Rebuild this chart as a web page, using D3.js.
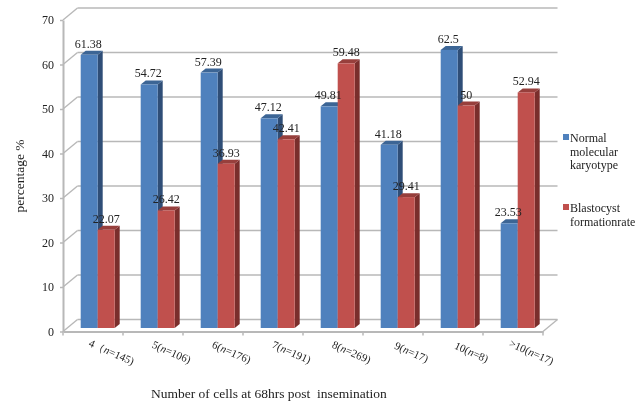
<!DOCTYPE html>
<html>
<head>
<meta charset="utf-8">
<script src="https://cdn.jsdelivr.net/npm/d3@7"></script>
<style>
  html, body { margin: 0; padding: 0; background: #fff; }
  svg { display: block; filter: blur(0.35px); }
  text { font-family: "Liberation Serif", serif; fill: #222; }
</style>
</head>
<body>
<svg></svg>
<script>
//chart data
var categories = ["4（n=145)", "5(n=106)", "6(n=176)", "7(n=191)", "8(n=269)", "9(n=17)", "10(n=8)", ">10(n=17)"];
var normalKaryotype = [61.38, 54.72, 57.39, 47.12, 49.81, 41.18, 62.5, 23.53];
var blastocystRate = [22.07, 26.42, 36.93, 42.41, 59.48, 29.41, 50, 52.94];
var seriesNames = ["normal", "blastocyst"];
var yTicks = [0, 10, 20, 30, 40, 50, 60, 70];

var svgWidth = 636, svgHeight = 402;

//3d look of the chart: back wall offset, bar depth
var wallX = 14.5, wallY = -12;
var barDepthX = 5, barDepthY = -4;
var barLift = -3.5;

var colors = {
    normal: { front: "#4f81bd", top: "#3c6595", side: "#2f4e77" },
    blastocyst: { front: "#c0504d", top: "#973f3c", side: "#7a2e2c" }
};
var gridColor = "#b8b8b8";

var svg = d3.select("svg")
    .attr("width", svgWidth)
    .attr("height", svgHeight);

//scales
var x = d3.scaleBand().domain(categories).range([63, 543]);
var xInner = d3.scaleBand().domain(seriesNames).range([17.7, 51.7]);
var y = d3.scaleLinear().domain([0, 70]).range([331.5, 20]);

//gridlines on the back wall and the left wall
var grid = svg.append("g");
grid.selectAll(".back")
    .data(yTicks)
    .enter().append("line")
    .attr("x1", x.range()[0] + wallX)
    .attr("x2", x.range()[1] + wallX)
    .attr("y1", function(d) { return y(d) + wallY; })
    .attr("y2", function(d) { return y(d) + wallY; })
    .attr("stroke", gridColor)
    .attr("stroke-width", 1.6);
grid.selectAll(".left")
    .data(yTicks)
    .enter().append("line")
    .attr("x1", x.range()[0])
    .attr("x2", x.range()[0] + wallX)
    .attr("y1", function(d) { return y(d); })
    .attr("y2", function(d) { return y(d) + wallY; })
    .attr("stroke", gridColor)
    .attr("stroke-width", 1.4);

//floor, right edge
grid.append("line")
    .attr("x1", x.range()[1]).attr("x2", x.range()[1] + wallX)
    .attr("y1", y(0)).attr("y2", y(0) + wallY)
    .attr("stroke", gridColor).attr("stroke-width", 1.4);

//y axis
var yAxis = svg.append("g")
    .attr("transform", "translate(" + x.range()[0] + ",0)")
    .call(d3.axisLeft(y).tickValues(yTicks).tickSize(3).tickPadding(6).tickSizeOuter(0));
yAxis.select(".domain").attr("stroke", gridColor).attr("stroke-width", 2);
yAxis.selectAll("line").attr("stroke", gridColor).attr("stroke-width", 1.5);
yAxis.selectAll("text").attr("font-size", 12).attr("font-family", "Liberation Serif").attr("fill", "#222");

//x axis: ticks sit on the category boundaries, labels are slanted with an italic n
var xAxis = svg.append("g")
    .attr("transform", "translate(0," + y(0) + ")")
    .call(d3.axisBottom(x).tickSize(0).tickSizeOuter(0));
xAxis.select(".domain").attr("stroke", gridColor).attr("stroke-width", 2);
xAxis.selectAll("text")
    .attr("font-size", 11)
    .attr("font-family", "Liberation Serif")
    .attr("fill", "#222")
    .attr("text-anchor", "middle")
    .attr("y", 0).attr("dy", 0)
    .attr("transform", "translate(17,24) rotate(24)")
    .each(function(d) {
        var parts = d.split("n");
        var t = d3.select(this).text(null);
        t.append("tspan").text(parts[0]);
        t.append("tspan").attr("font-style", "italic").text("n");
        t.append("tspan").text(parts[1]);
    });
svg.append("g").selectAll("line")
    .data(categories.concat(["end"]))
    .enter().append("line")
    .attr("x1", function(d, i) { return x.range()[0] + i * x.bandwidth(); })
    .attr("x2", function(d, i) { return x.range()[0] + i * x.bandwidth(); })
    .attr("y1", y(0))
    .attr("y2", y(0) + 4)
    .attr("stroke", gridColor)
    .attr("stroke-width", 1.5);

//bars are drawn as three faces, blue first so the red one covers its side
function drawBars(name, values) {
    var c = colors[name];
    var g = svg.append("g").attr("class", "bars-" + name);
    var bars = g.selectAll("g")
        .data(values)
        .enter().append("g");

    function left(i) { return x(categories[i]) + xInner(name); }
    function right(i) { return left(i) + xInner.bandwidth(); }
    function top(d) { return y(d) + barLift; }
    function base() { return y(0) + barLift; }

    bars.append("path")
        .attr("fill", c.side)
        .attr("d", function(d, i) {
            return d3.line()([
                [right(i), top(d)],
                [right(i) + barDepthX, top(d) + barDepthY],
                [right(i) + barDepthX, base() + barDepthY],
                [right(i), base()]
            ]) + "Z";
        });
    bars.append("path")
        .attr("fill", c.top)
        .attr("d", function(d, i) {
            return d3.line()([
                [left(i), top(d)],
                [left(i) + barDepthX, top(d) + barDepthY],
                [right(i) + barDepthX, top(d) + barDepthY],
                [right(i), top(d)]
            ]) + "Z";
        });
    bars.append("rect")
        .attr("fill", c.front)
        .attr("x", function(d, i) { return left(i); })
        .attr("y", function(d) { return top(d); })
        .attr("width", xInner.bandwidth())
        .attr("height", function(d) { return base() - top(d); });
}
drawBars("normal", normalKaryotype);
drawBars("blastocyst", blastocystRate);

//value labels
function drawLabels(name, values, dx) {
    svg.append("g").selectAll("text")
        .data(values)
        .enter().append("text")
        .attr("x", function(d, i) { return x(categories[i]) + xInner(name) + xInner.bandwidth() / 2 + dx; })
        .attr("y", function(d) { return y(d) + barLift - 7; })
        .attr("text-anchor", "middle")
        .attr("font-size", 12)
        .text(function(d) { return d; });
}
drawLabels("normal", normalKaryotype, -1);
drawLabels("blastocyst", blastocystRate, 0);

//legend
var legend = [
    { name: "normal", lines: ["Normal", "molecular", "karyotype"], top: 134 },
    { name: "blastocyst", lines: ["Blastocyst", "formationrate"], top: 204 }
];
var legendG = svg.append("g").selectAll("g")
    .data(legend)
    .enter().append("g")
    .attr("transform", function(d) { return "translate(563," + d.top + ")"; });
legendG.append("rect")
    .attr("width", 6).attr("height", 6)
    .attr("fill", function(d) { return colors[d.name].front; });
legendG.selectAll("text")
    .data(function(d) { return d.lines; })
    .enter().append("text")
    .attr("x", 7)
    .attr("y", function(d, i) { return 8 + i * 13.7; })
    .attr("font-size", 12)
    .text(function(d) { return d; });

//axis titles
svg.append("text")
    .attr("transform", "translate(24,176) rotate(-90)")
    .attr("text-anchor", "middle")
    .attr("font-size", 13.5)
    .text("percentage %");
svg.append("text")
    .attr("x", 151)
    .attr("y", 398)
    .attr("font-size", 13.5)
    .style("white-space", "pre")
    .text("Number of cells at 68hrs post  insemination");
</script>
</body>
</html>
